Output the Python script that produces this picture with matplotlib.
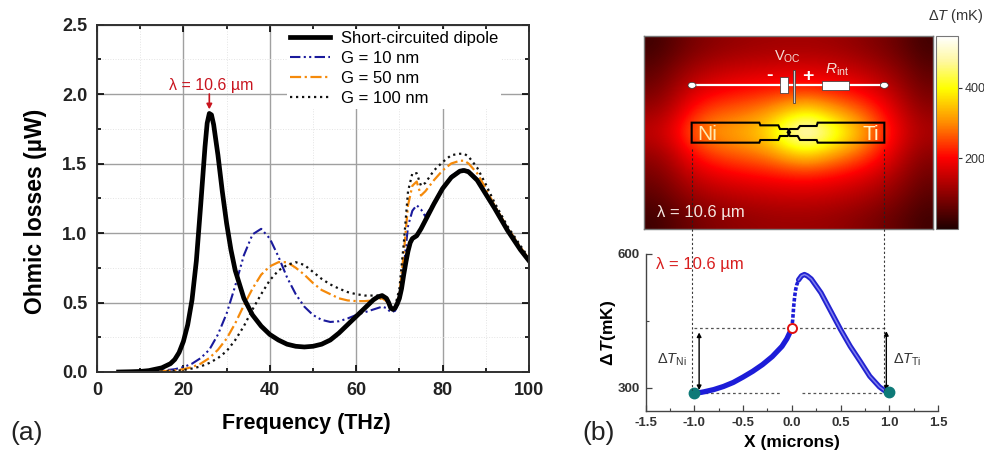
"""Ohmic losses vs frequency (a) and dipole temperature map + profile (b)."""
import matplotlib
matplotlib.use("Agg")
import matplotlib.pyplot as plt
import numpy as np
from matplotlib.colors import LinearSegmentedColormap
from matplotlib.patches import Ellipse, Polygon, Rectangle

plt.rcParams["font.family"] = ["Liberation Sans", "DejaVu Sans"]
plt.rcParams["mathtext.fontset"] = "custom"
plt.rcParams["mathtext.rm"] = "Liberation Sans"
plt.rcParams["mathtext.it"] = "Liberation Sans:italic"
plt.rcParams["mathtext.bf"] = "Liberation Sans:bold"
plt.rcParams["mathtext.bfit"] = "Liberation Sans:italic:bold"

W, H = 984, 457

# panel (a), values
f_short = [5, 8, 10, 12, 15, 17, 18, 19, 20, 21, 22, 23, 24, 25, 25.5, 26, 26.5, 27, 28, 29, 30, 31, 32, 34, 36, 38,
           40, 42, 44, 46, 48, 50, 52, 54, 56, 58, 60, 62, 64, 65, 66, 67, 67.5, 68, 68.5, 69, 69.5, 70, 70.5,
           71, 71.5, 72, 72.5, 73, 74, 75, 76, 78, 80, 82, 84, 85, 86, 88, 90, 92, 95, 98, 100]
l_short = [0, 0.002, 0.004, 0.01, 0.03, 0.06, 0.09, 0.14, 0.22, 0.34, 0.52, 0.8, 1.2, 1.62, 1.79, 1.86, 1.85, 1.78,
           1.56, 1.3, 1.07, 0.88, 0.73, 0.53, 0.41, 0.33, 0.27, 0.23, 0.2, 0.185, 0.18, 0.185, 0.2, 0.23, 0.28,
           0.34, 0.4, 0.46, 0.52, 0.54, 0.55, 0.53, 0.5, 0.46, 0.45, 0.46, 0.49, 0.53, 0.6,
           0.7, 0.79, 0.87, 0.93, 0.96, 0.98, 1.03, 1.09, 1.21, 1.32, 1.4, 1.445, 1.45, 1.44, 1.38, 1.28, 1.18, 1.02, 0.88, 0.8]

f_g = [5, 10, 15, 18, 20, 22, 24, 26, 28, 30, 32, 34, 36, 38, 40, 42, 44, 46, 48, 50, 52, 54, 56, 58, 60, 62, 64,
       66, 67, 68, 69, 70, 71, 72, 73, 74, 75, 76, 78, 80, 82, 84, 85, 86, 88, 90, 92, 95, 98, 100]
l_g10 = [0, 0.002, 0.01, 0.02, 0.035, 0.06, 0.1, 0.16, 0.27, 0.42, 0.62, 0.84, 0.99, 1.03, 0.96, 0.83, 0.68, 0.56,
         0.47, 0.41, 0.375, 0.36, 0.365, 0.385, 0.41, 0.43, 0.45, 0.47, 0.46, 0.43, 0.44, 0.52, 0.75, 1.05, 1.16,
         1.2, 1.17, 1.12, 1.22, 1.33, 1.41, 1.45, 1.46, 1.45, 1.39, 1.29, 1.18, 1.02, 0.88, 0.8]
l_g50 = [0, 0.001, 0.005, 0.012, 0.02, 0.035, 0.06, 0.1, 0.16, 0.24, 0.35, 0.48, 0.6, 0.7, 0.76, 0.79, 0.79, 0.75,
         0.7, 0.64, 0.59, 0.56, 0.53, 0.515, 0.51, 0.51, 0.515, 0.53, 0.51, 0.46, 0.46, 0.56, 0.85, 1.2, 1.34,
         1.37, 1.27, 1.3, 1.38, 1.45, 1.5, 1.52, 1.52, 1.5, 1.43, 1.32, 1.2, 1.04, 0.9, 0.81]
l_g100 = [0, 0.001, 0.003, 0.008, 0.014, 0.025, 0.04, 0.065, 0.1, 0.15, 0.23, 0.33, 0.45, 0.56, 0.66, 0.73, 0.77, 0.79,
          0.77, 0.72, 0.67, 0.63, 0.6, 0.575, 0.56, 0.55, 0.55, 0.55, 0.52, 0.47, 0.47, 0.6, 0.92, 1.3, 1.43,
          1.43, 1.34, 1.36, 1.45, 1.51, 1.56, 1.57, 1.57, 1.55, 1.47, 1.35, 1.22, 1.05, 0.91, 0.82]

# panel (b), temperature profile along the dipole
x_ni = [-1.0, -0.95, -0.9, -0.8, -0.7, -0.6, -0.5, -0.4, -0.3, -0.2, -0.1, -0.05, 0.0]
t_ni = [288, 289, 291, 296, 303, 312, 324, 337, 352, 370, 393, 410, 433]
x_jump = [0.0, 0.01, 0.02, 0.03, 0.04, 0.05, 0.07]
t_jump = [433, 453, 483, 505, 520, 530, 542]
x_ti = [0.07, 0.1, 0.13, 0.16, 0.2, 0.3, 0.4, 0.5, 0.6, 0.7, 0.8, 0.9, 0.95, 1.0]
t_ti = [542, 551, 554, 551, 544, 513, 472, 431, 393, 360, 326, 302, 294, 290]
x_ends = [-1.0, 1.0]
t_ends = [288, 290]

# temperature map in mK (rows top to bottom, columns along X)
heat_map = [
    [30, 55, 80, 95, 105, 112, 116, 118, 118, 115, 108, 95, 80, 58, 32],
    [55, 85, 115, 135, 148, 155, 160, 165, 165, 160, 150, 135, 112, 85, 55],
    [80, 115, 160, 185, 200, 210, 218, 225, 228, 220, 205, 185, 155, 112, 78],
    [115, 150, 215, 255, 270, 285, 310, 350, 380, 340, 300, 260, 205, 145, 105],
    [150, 190, 270, 310, 325, 345, 390, 490, 546, 480, 400, 320, 240, 170, 130],
    [110, 145, 205, 245, 265, 280, 300, 340, 365, 330, 295, 255, 200, 140, 100],
    [80, 110, 150, 175, 190, 200, 208, 215, 218, 210, 195, 175, 145, 108, 75],
    [55, 80, 108, 125, 135, 142, 148, 152, 152, 148, 138, 125, 105, 80, 52],
    [28, 50, 72, 88, 98, 105, 110, 112, 112, 108, 100, 88, 72, 52, 30],
]
T_MIN, T_MAX = 0, 546

HEAT = LinearSegmentedColormap.from_list("heat", [
    (0.0, "#200000"), (0.16, "#800000"), (0.37, "#ff0000"),
    (0.55, "#ff8c00"), (0.73, "#ffff00"), (0.87, "#fff8a0"), (1.0, "#ffffff")])
RED = "#c8141e"


def px_axes(fig, left, top, right, bottom, **kw):
    return fig.add_axes([left / W, 1 - bottom / H, (right - left) / W, (bottom - top) / H], **kw)


fig = plt.figure(figsize=(W / 100, H / 100), dpi=100)

# --- (a) -------------------------------------------------------------------
ax = px_axes(fig, 97, 24.5, 529, 372)
ax.set_xlim(0, 100)
ax.set_ylim(0, 2.5)
ax.set_xticks(range(0, 101, 20))
ax.set_xticks(range(10, 100, 20), minor=True)
ax.set_yticks(np.arange(0, 2.6, 0.5))
ax.set_yticks(np.arange(0.25, 2.5, 0.5), minor=True)
ax.grid(True, which="major", color="#a0a0a0", lw=1)
ax.grid(True, which="minor", color="#e4e4e4", lw=0.7, ls=":")
ax.set_axisbelow(True)
ax.tick_params(which="both", direction="in", top=True, right=True, width=1.2)
ax.tick_params(which="major", length=5, labelsize=13, pad=7)
ax.tick_params(which="minor", length=3)
for lab in ax.get_xticklabels() + ax.get_yticklabels():
    lab.set_fontweight("bold")
    lab.set_color("#222222")
for s in ax.spines.values():
    s.set_linewidth(1.4)
    s.set_color("#303030")
    s.set_zorder(6)

l0, = ax.plot(f_short, l_short, color="black", lw=3.4, zorder=5, solid_joinstyle="round")
l1, = ax.plot(f_g, l_g10, color="#1a1a9c", lw=1.5, ls=(0, (5, 1.6, 1, 1.6, 1, 1.6)), zorder=3)
l2, = ax.plot(f_g, l_g50, color="#f58a0b", lw=1.6, ls=(0, (5, 1.6, 1, 1.6)), zorder=3.5)
l3, = ax.plot(f_g, l_g100, color="#111111", lw=1.6, ls=(0, (1, 1.7)), zorder=4)
ax.set_xlabel("Frequency (THz)", fontsize=15.5, fontweight="bold", labelpad=10, x=0.484)
ax.set_ylabel("Ohmic losses (\u00b5W)", fontsize=16.5, fontweight="bold", labelpad=11, y=0.463)
leg = ax.legend([l0, l1, l2, l3],
                ["Short-circuited dipole", "G = 10 nm", "G = 50 nm", "G = 100 nm"],
                loc="upper right", bbox_to_anchor=(0.945, 1.0), borderaxespad=0.25,
                fontsize=12, frameon=True, framealpha=1, edgecolor="none", fancybox=False,
                labelspacing=0.3, handlelength=2.4, handletextpad=0.7, borderpad=0.15)
leg.set_zorder(4.5)
ax.annotate("", xy=(26, 1.89), xytext=(26, 2.0), zorder=7,
            arrowprops=dict(arrowstyle="-|>,head_width=0.16,head_length=0.3", color=RED, lw=1.2, shrinkA=0, shrinkB=0))
ax.text(26.5, 2.01, "\u03bb = 10.6 \u00b5m", color=RED, fontsize=11.5, ha="center", va="bottom", zorder=7)

# --- (b) map ---------------------------------------------------------------
ax_h = px_axes(fig, 643.5, 36, 932.5, 229)
im = ax_h.imshow(heat_map, cmap=HEAT, vmin=T_MIN, vmax=T_MAX, aspect="auto", interpolation="bicubic",
                 extent=(-1.5, 1.5, -1, 1))
ax_h.set_xticks([])
ax_h.set_yticks([])
for s in ax_h.spines.values():
    s.set_color("#777777")
    s.set_linewidth(1)

cax = px_axes(fig, 936, 36, 958, 229)
cb = fig.colorbar(im, cax=cax)
cb.set_ticks([200, 400])
cb.ax.tick_params(direction="out", length=3, width=0.8, labelsize=9, pad=1.5, colors="#333333")
cb.outline.set_edgecolor("#777777")
fig.text(956 / W, 1 - 16 / H, r"$\Delta\mathit{T}$ (mK)", fontsize=10.5, ha="center", va="center", color="#333333")

# schematic on the map, drawn in figure pixels
ov = fig.add_axes([0, 0, 1, 1], facecolor="none", zorder=5)
ov.set_xlim(0, W)
ov.set_ylim(H, 0)
ov.axis("off")


def zx(v):
    return 620 + v / 3


def zy(v):
    return v / 3


ov.plot([zx(216), zx(793)], [zy(256), zy(256)], color="white", lw=1.6, zorder=2)
for cx in (216, 793):
    ov.add_patch(Ellipse((zx(cx), zy(256)), 8, 6, fc="white", ec="#333333", lw=0.5, zorder=3))
ov.add_patch(Rectangle((zx(480), zy(232)), 8, 15.5, fc="white", ec="#333333", lw=0.5, zorder=3))
ov.add_patch(Rectangle((zx(518), zy(209)), 2.8, 33, fc="#cccccc", ec="#333333", lw=0.5, zorder=3))
ov.add_patch(Rectangle((zx(607), zy(244)), 27, 9, fc="white", ec="#333333", lw=0.5, zorder=3))
ov.text(zx(503), zy(170), r"V$_{\mathrm{OC}}$", color="#f4e0d8", fontsize=10.5, ha="center", va="center")
ov.text(zx(448), zy(228), "-", color="white", fontsize=14, fontweight="bold", ha="center", va="center")
ov.text(zx(562), zy(230), "+", color="white", fontsize=14, fontweight="bold", ha="center", va="center")
ov.text(zx(651), zy(209), r"$\mathit{R}_{\mathrm{int}}$", color="#f4e0d8", fontsize=11, ha="center", va="center")
dipole = [(215, 368), (418, 368), (421, 376), (475, 376), (480, 387), (503, 387), (510, 397), (503, 408),
          (480, 408), (475, 420), (421, 420), (418, 428), (215, 428)]
dipole_r = [(793, 368), (593, 368), (590, 378), (540, 378), (533, 387), (510, 387), (503, 397), (510, 408),
            (533, 408), (540, 420), (590, 420), (593, 428), (793, 428)]
for outline in (dipole, dipole_r):
    ov.add_patch(Polygon([(zx(a), zy(b)) for a, b in outline], closed=True, fill=False, ec="black", lw=1.5, zorder=3))
ov.text(zx(263), zy(402), "Ni", color="#ffe9b0", fontsize=15, ha="center", va="center")
ov.text(zx(752), zy(402), "Ti", color="#fff6c8", fontsize=15, ha="center", va="center")
ov.text(zx(110), zy(636), "\u03bb = 10.6 \u00b5m", color="#f4e6e0", fontsize=12, ha="left", va="center")

# --- (b) profile -----------------------------------------------------------
ax_p = px_axes(fig, 645.5, 254, 938, 411)
ax_p.set_xlim(-1.5, 1.5)
ax_p.set_ylim(248, 600)
ax_p.patch.set_alpha(0)
ax_p.spines[["top", "right"]].set_visible(False)
for s in ("left", "bottom"):
    ax_p.spines[s].set_color("#444444")
    ax_p.spines[s].set_linewidth(1)
ax_p.set_xticks(np.arange(-1.5, 1.6, 0.5))
ax_p.set_xticklabels(["-1.5", "-1.0", "-0.5", "0.0", "0.5", "1.0", "1.5"])
ax_p.set_xticks(np.arange(-1.25, 1.5, 0.5), minor=True)
ax_p.set_yticks([300, 600])
ax_p.set_yticks([450], minor=True)
ax_p.tick_params(which="major", direction="in", length=4, width=0.9, labelsize=9.5, color="#444444", pad=4)
ax_p.tick_params(which="minor", direction="in", length=2, width=0.8, color="#444444")
for lab in ax_p.get_xticklabels() + ax_p.get_yticklabels():
    lab.set_fontweight("bold")
    lab.set_color("#333333")
ax_p.set_xlabel("X (microns)", fontsize=12.5, fontweight="bold", labelpad=5)
ax_p.set_ylabel(r"$\mathbf{\Delta}\,\mathbfit{T}$" + "(mK)", fontsize=12.5, fontweight="bold", labelpad=0, y=0.5)

ax_p.plot(x_ni, t_ni, color="#1c1cd8", lw=3.8, solid_capstyle="round", zorder=3)
ax_p.plot(x_jump, t_jump, color="#1c1cd8", lw=2.6, ls=(0, (1, 0.5)), zorder=3)
ax_p.plot(x_ti, t_ti, color="#2222d0", lw=3.8, solid_capstyle="round", zorder=3)
ax_p.plot(x_ti, t_ti, color="#7f7fee", lw=1.1, zorder=3.2)
ax_p.plot(x_ends, t_ends, ls="none", marker="o", ms=7.5, color="#0e7a78", zorder=4, clip_on=False)
ax_p.plot([0], [t_ni[-1]], ls="none", marker="o", ms=6.5, mfc="white", mec="#e01010", mew=1.4, zorder=5)

DASH = dict(color="#555555", lw=0.9, ls=(0, (2.2, 2.2)), zorder=2)
ax_p.plot([-1, -0.1], [288, 288], **DASH)
ax_p.plot([0.11, 0.98], [288, 288], **DASH)
ax_p.plot([-1, 0], [433, 433], **DASH)
ax_p.plot([0.02, 0.98], [433, 433], **DASH)
for px in (692, 884):
    ov.plot([px, px], [149, 390], color="#222222", lw=0.8, ls=(0, (2, 2)), zorder=1.5, alpha=0.9)
for xt, top, bot in ((-0.95, 424, 295), (0.97, 427, 294)):
    ax_p.annotate("", xy=(xt, top), xytext=(xt, bot),
                  arrowprops=dict(arrowstyle="<|-|>,head_width=0.13,head_length=0.25", color="black", lw=1,
                                  shrinkA=0, shrinkB=0))
ax_p.text(-1.08, 362, r"$\Delta\mathit{T}_{\mathrm{Ni}}$", fontsize=10.5, color="#333333", ha="right", va="center")
ax_p.text(1.04, 362, r"$\Delta\mathit{T}_{\mathrm{Ti}}$", fontsize=10.5, color="#333333", ha="left", va="center")
ax_p.text(-1.39, 577, "\u03bb = 10.6 \u00b5m", color="#d81e1e", fontsize=12, ha="left", va="center")

fig.text(10 / W, 1 - 433 / H, "(a)", fontsize=19, color="#222222", va="center")
fig.text(582 / W, 1 - 433 / H, "(b)", fontsize=19, color="#222222", va="center")

fig.savefig("out.png", dpi=100)
